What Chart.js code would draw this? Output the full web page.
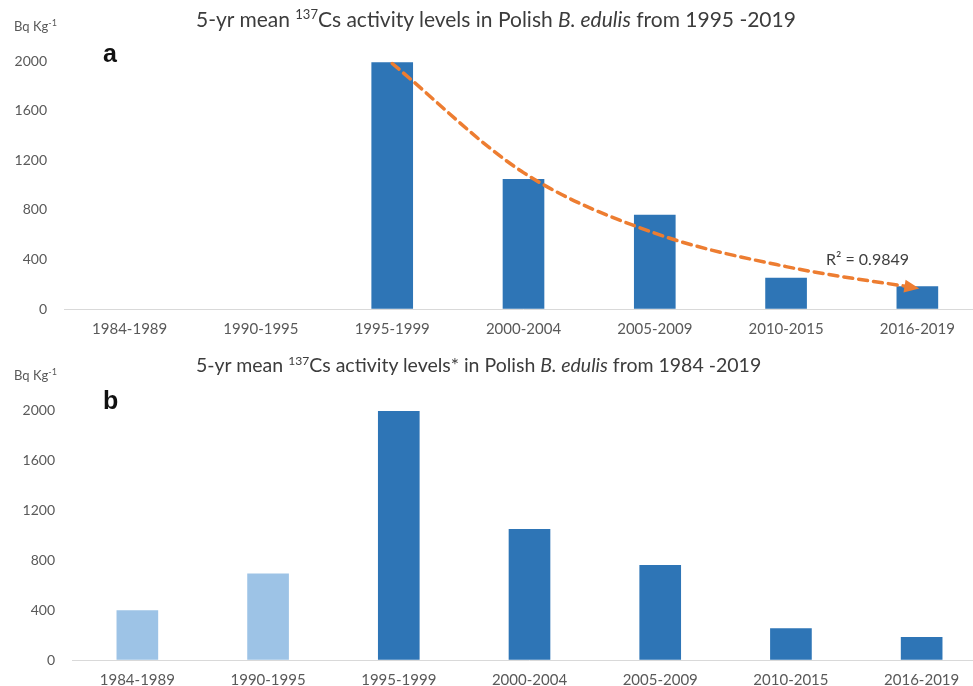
<!DOCTYPE html>
<html lang="en">
<head>
    <meta charset="UTF-8">
    <title>137Cs in Polish B. edulis</title>
    <script src="https://cdn.jsdelivr.net/npm/chart.js"></script>
    <style>
        html, body { margin: 0; padding: 0; background: #fff; overflow: hidden; }
        #wrap { position: relative; width: 973px; height: 686px; overflow: hidden; font-family: Lato, "Open Sans", sans-serif; }
        canvas { position: absolute; left: 0; }
        .title { position: absolute; color: #3c3c3c; white-space: nowrap; }
        .title sup { font-size: 0.62em; vertical-align: 0.6em; line-height: 0; }
        .unit { position: absolute; left: 14px; font-size: 13px; color: #595959; white-space: nowrap; }
        .unit sup { font-size: 0.7em; vertical-align: 0.5em; line-height: 0; }
        .panel { position: absolute; left: 103px; font-family: "Liberation Sans", Arial, sans-serif; font-weight: bold; font-size: 25px; color: #111; }
        .r2 { position: absolute; left: 826px; top: 249px; font-size: 16px; color: #404040; white-space: nowrap; }
    </style>
</head>
<body>
<div id="wrap">
    <canvas id="chartA" width="983" height="345" style="top:0"></canvas>
    <canvas id="chartB" width="987" height="341" style="top:345px"></canvas>

    <div class="title" style="left:196px; top:6px; font-size:21px;">5-yr mean <sup>137</sup>Cs activity levels in Polish <i>B. edulis</i> from 1995 -2019</div>
    <div class="unit" style="top:18px;">Bq Kg<sup>-1</sup></div>
    <div class="panel" style="top:39px;">a</div>
    <div class="r2">R² = 0.9849</div>

    <div class="title" style="left:196px; top:353px; font-size:19.5px;">5-yr mean <sup>137</sup>Cs activity levels* in Polish <i>B. edulis</i> from 1984 -2019</div>
    <div class="unit" style="top:367px;">Bq Kg<sup>-1</sup></div>
    <div class="panel" style="top:386px;">b</div>
</div>
<script>
    const periods = ['1984-1989', '1990-1995', '1995-1999', '2000-2004', '2005-2009', '2010-2015', '2016-2019'];
    // panel a: only 1995 onwards
    const meanA = [null, null, 1988, 1045, 757, 250, 180];
    // exponential trendline at each period
    const trendA = [null, null, 1980, 1100, 612, 342, 168];
    // panel b: all periods (first two shown lighter)
    const meanB = [395, 690, 1990, 1045, 757, 252, 182];
    const yMin = 0, yMax = 2000, yStep = 400;

    const blue = '#2e75b6', lightBlue = '#9dc3e6', orange = '#ed7d31';

    function scales(yWidth, xHeight) {
        return {
            x: {
                grid: { display: false, drawTicks: false },
                border: { display: false },
                ticks: { color: '#595959', font: { family: 'Lato', size: 15 }, padding: 11, maxRotation: 0, autoSkip: false },
                afterFit: s => { s.width; s.height = xHeight; }
            },
            y: {
                min: yMin, max: yMax,
                grid: { drawTicks: false, color: c => c.tick && c.tick.value === 0 ? '#d9d9d9' : 'rgba(0,0,0,0)' },
                border: { display: false },
                ticks: {
                    stepSize: yStep, color: '#595959', font: { family: 'Lato', size: 14 }, padding: 17,
                    callback: v => String(v)
                },
                afterFit: s => { s.width = yWidth; }
            }
        };
    }

    // arrow head at the end of the trendline
    const arrowHead = {
        id: 'arrowHead',
        afterDatasetsDraw(chart) {
            const meta = chart.getDatasetMeta(1);
            const pts = meta.data.filter(p => !p.skip);
            const last = pts[pts.length - 1];
            const prev = pts[pts.length - 2];
            let dx = last.x - (last.cp1x ?? prev.x);
            let dy = last.y - (last.cp1y ?? prev.y);
            const a = Math.atan2(dy, dx);
            const ctx = chart.ctx;
            ctx.save();
            ctx.translate(last.x, last.y);
            ctx.rotate(a);
            ctx.fillStyle = orange;
            ctx.beginPath();
            ctx.moveTo(2, 0);
            ctx.lineTo(-13, -6.5);
            ctx.lineTo(-13, 6.5);
            ctx.closePath();
            ctx.fill();
            ctx.restore();
        }
    };

    new Chart(document.getElementById('chartA'), {
        type: 'bar',
        data: {
            labels: periods,
            datasets: [{
                data: meanA,
                backgroundColor: blue,
                barThickness: 41,
                order: 2
            }, {
                type: 'line',
                data: trendA,
                borderColor: orange,
                borderWidth: 3.5,
                borderDash: [9, 6],
                borderCapStyle: 'round',
                pointRadius: 0,
                cubicInterpolationMode: 'monotone',
                order: 1
            }]
        },
        options: {
            responsive: false,
            animation: false,
            layout: { padding: { top: 61, right: 0, bottom: 0, left: 0 } },
            plugins: { legend: { display: false }, tooltip: { enabled: false } },
            scales: scales(64, 36)
        },
        plugins: [arrowHead]
    });

    new Chart(document.getElementById('chartB'), {
        type: 'bar',
        data: {
            labels: periods,
            datasets: [{
                data: meanB,
                backgroundColor: c => c.dataIndex < 2 ? lightBlue : blue,
                barThickness: 41
            }]
        },
        options: {
            responsive: false,
            animation: false,
            layout: { padding: { top: 65, right: 0, bottom: 0, left: 0 } },
            plugins: { legend: { display: false }, tooltip: { enabled: false } },
            scales: scales(72, 26)
        }
    });
</script>
</body>
</html>
